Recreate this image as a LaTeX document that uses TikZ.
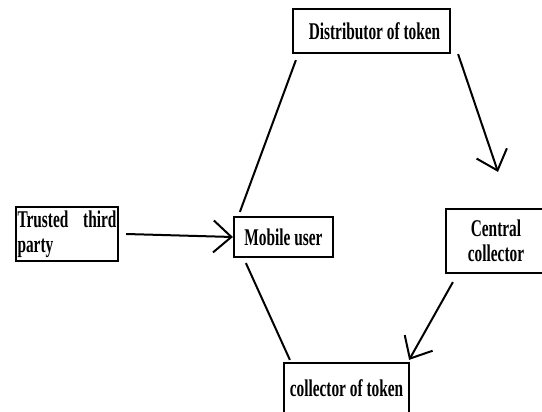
\documentclass[tikz,border=0pt]{standalone}
\usepackage{fontspec}
\setmainfont{Liberation Serif}[FakeStretch=0.64]
\usepackage{tikz}
\usetikzlibrary{positioning,calc,arrows.meta}
\tikzstyle{block}=[draw,line width=2.2pt,font=\bfseries\fontsize{24}{25}\selectfont,inner sep=2pt]
\tikzstyle{arr}=[-{Straight Barb[length=18pt,width=32pt]}]

\begin{document}
\begin{tikzpicture}[x=1pt,y=-1pt,line width=2pt]
\useasboundingbox (0,0) rectangle (542,412);
\clip (0,0) rectangle (542,412);
\node (ttp) [block,text width=99pt,minimum height=54pt,align=justify,inner xsep=1.5pt] at (67,234) {Trusted third\linebreak party};
\node (mob) [block,minimum width=99pt,minimum height=40pt] at (283.5,237) {Mobile user};
\node (dist) [block,minimum width=157pt,minimum height=44pt] at (371.5,31) {\hspace*{6pt}Distributor of token};
\node (cent) [block,minimum width=100pt,minimum height=64pt,align=center] at (496,241) {Central\\collector};
\node (coll) [block,minimum width=125pt,minimum height=50pt] at (346.5,388) {collector of token};

\draw ([xshift=4pt,yshift=-6pt]dist.south west) -- ([xshift=7pt,yshift=4pt]mob.north west);
\draw ([xshift=13pt,yshift=-5pt]mob.south west) -- ([xshift=7pt,yshift=2pt]coll.north west);
\draw[arr] ([xshift=7pt]ttp.east) -- (mob.west);
\draw[arr] ([xshift=7pt]dist.south east) -- ([xshift=2pt,yshift=36pt]cent.north);
\draw[arr] ([xshift=8pt,yshift=-8pt]cent.south west) -- ([xshift=-1pt,yshift=2pt]coll.north east);
\end{tikzpicture}
\end{document}
